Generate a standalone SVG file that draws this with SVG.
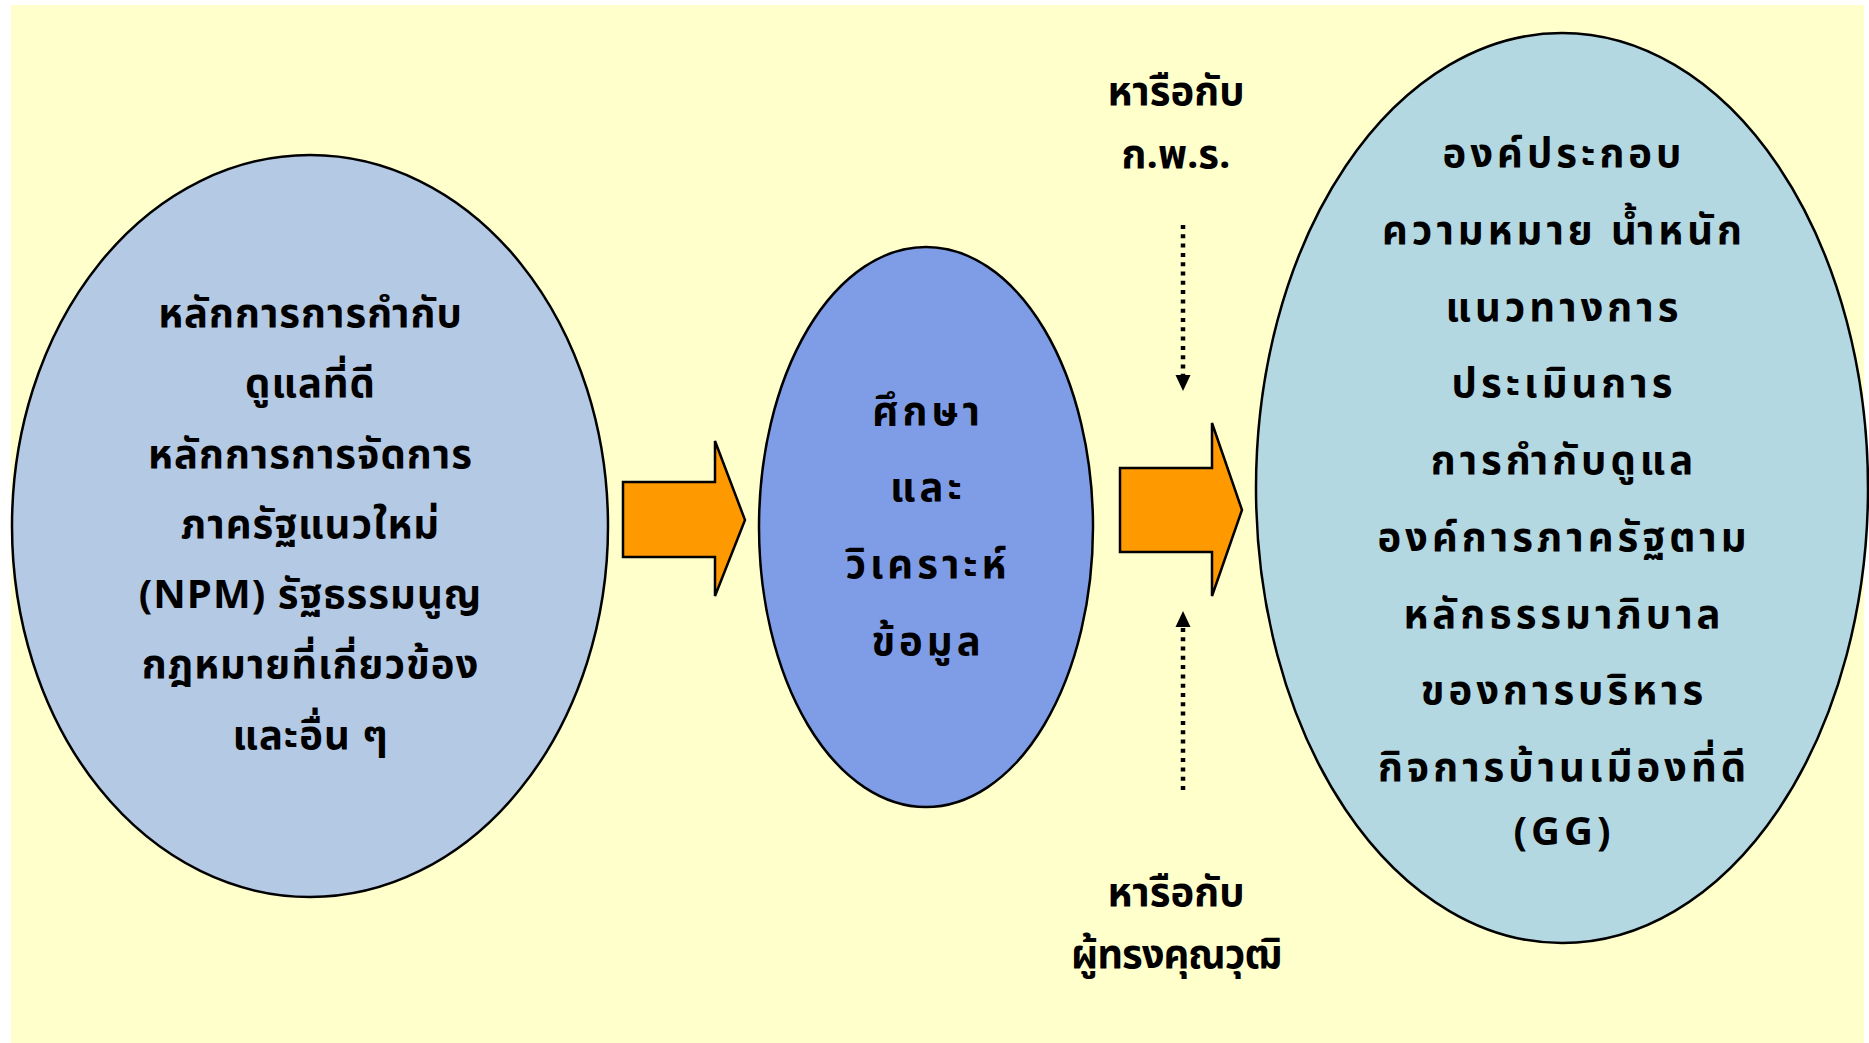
<svg xmlns="http://www.w3.org/2000/svg" width="1869" height="1043" viewBox="0 0 1869 1043">
<defs>
<style>
.t{font-family:Tahoma,"Noto Sans Thai","Noto Sans","DejaVu Sans",sans-serif;font-weight:bold;fill:#000;text-anchor:middle;font-size:40px}
.l{letter-spacing:1px}
.w{letter-spacing:4px}
.n{stroke:#000;stroke-width:2.5}
.arr{fill:#FF9900;stroke:#000;stroke-width:2.5;stroke-linejoin:miter}
.dot{stroke:#000;stroke-width:4.5;stroke-dasharray:4 5.3;fill:none}
</style>
</defs>
<rect width="1869" height="1043" fill="#FFFFFF"/>
<rect x="11" y="5" width="1853" height="1038" fill="#FFFFCC"/>
<g id="left">
<ellipse class="n" cx="310" cy="526" rx="298" ry="371" fill="#B4C9E3"/>
<text class="t l" x="310.5" y="327">หลักการการกำกับ</text>
<text class="t l" x="310.5" y="397">ดูแลที่ดี</text>
<text class="t l" x="310.5" y="468">หลักการการจัดการ</text>
<text class="t l" x="310.5" y="538">ภาครัฐแนวใหม่</text>
<text class="t l" x="310.5" y="608">(NPM) รัฐธรรมนูญ</text>
<text class="t l" x="310.5" y="678">กฎหมายที่เกี่ยวข้อง</text>
<text class="t l" x="310.5" y="749">และอื่น ๆ</text>
</g>
<g id="middle">
<ellipse class="n" cx="926" cy="527" rx="167" ry="280" fill="#7F9DE7"/>
<text class="t w" x="928" y="425">ศึกษา</text>
<text class="t w" x="928" y="501">และ</text>
<text class="t w" x="928" y="578">วิเคราะห์</text>
<text class="t w" x="928" y="655">ข้อมูล</text>
</g>
<g id="right">
<ellipse class="n" cx="1562" cy="488" rx="306" ry="455" fill="#B4D8E2"/>
<text class="t w" x="1564" y="167">องค์ประกอบ</text>
<text class="t w" x="1564" y="244">ความหมาย น้ำหนัก</text>
<text class="t w" x="1564" y="321">แนวทางการ</text>
<text class="t w" x="1564" y="397">ประเมินการ</text>
<text class="t w" x="1564" y="474">การกำกับดูแล</text>
<text class="t w" x="1564" y="551">องค์การภาครัฐตาม</text>
<text class="t w" x="1564" y="628">หลักธรรมาภิบาล</text>
<text class="t w" x="1564" y="704">ของการบริหาร</text>
<text class="t w" x="1564" y="781">กิจการบ้านเมืองที่ดี</text>
<text class="t w" x="1564" y="845">(GG)</text>
</g>
<g id="label-top">
<text class="t" x="1176" y="105">หารือกับ</text>
<text class="t" x="1176" y="168">ก.พ.ร.</text>
</g>
<g id="label-bottom">
<text class="t" x="1176" y="906">หารือกับ</text>
<text class="t" x="1176" y="968" style="letter-spacing:-1px">ผู้ทรงคุณวุฒิ</text>
</g>
<g id="connectors">
<path class="arr" d="M623,482 L715,482 L715,441 L745,520 L715,596 L715,557 L623,557 Z"/>
<path class="arr" d="M1120,468 L1212,468 L1212,423 L1242,510 L1212,596 L1212,552 L1120,552 Z"/>
<line class="dot" x1="1183" y1="225" x2="1183" y2="376"/>
<path d="M1175.5,375 L1190.5,375 L1183,391 Z" fill="#000"/>
<line class="dot" x1="1183" y1="790" x2="1183" y2="626"/>
<path d="M1175.5,627 L1190.5,627 L1183,611 Z" fill="#000"/>
</g>
</svg>
